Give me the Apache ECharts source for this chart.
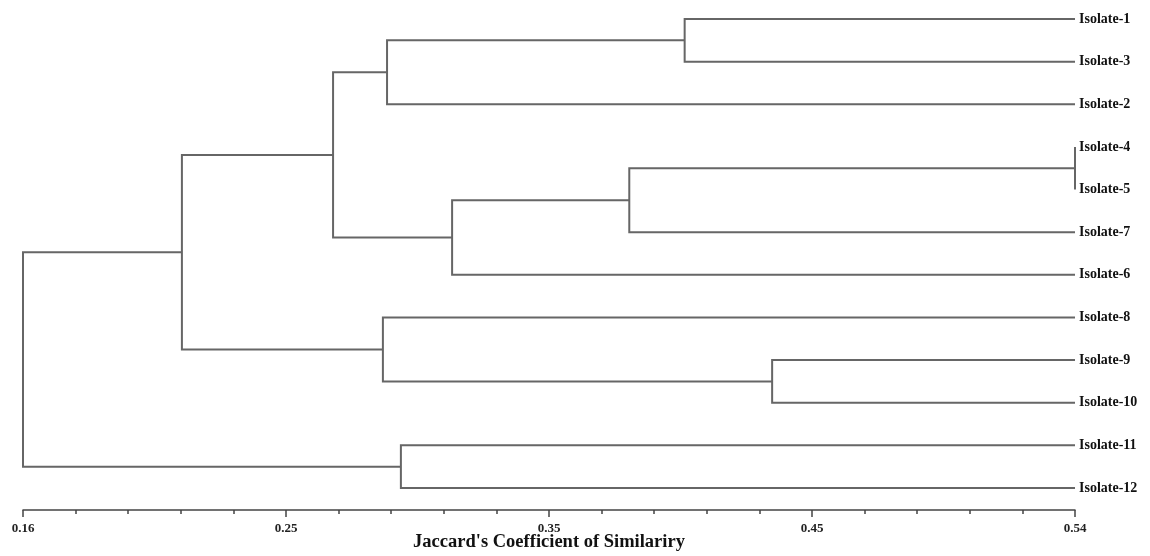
<!DOCTYPE html>
<html>
<head>
<meta charset="utf-8">
<script src="https://cdn.jsdelivr.net/npm/echarts@6/dist/echarts.min.js"></script>
<style>
  html, body { margin: 0; padding: 0; background: #fff; }
  #chart { width: 1150px; height: 556px; }
</style>
</head>
<body>
<div id="chart"></div>
<script>
// leaves, top to bottom
var leaves = ['Isolate-1', 'Isolate-3', 'Isolate-2', 'Isolate-4', 'Isolate-5', 'Isolate-7',
              'Isolate-6', 'Isolate-8', 'Isolate-9', 'Isolate-10', 'Isolate-11', 'Isolate-12'];

// merges: node ids 0..11 are leaves, merge i creates node 12+i
var mergeLeft   = [0, 12, 3, 14, 15, 13, 8, 7, 17, 10, 20];
var mergeRight  = [1, 2, 4, 5, 6, 16, 9, 18, 19, 11, 21];
var mergeHeight = [0.399, 0.2915, 0.54, 0.379, 0.315, 0.272, 0.4306, 0.290, 0.2174, 0.2965, 0.16];

var tickLabels = ['0.16', '0.25', '0.35', '0.45', '0.54'];
var axisMin = 0.16, axisMax = 0.54;

var serif = '"Liberation Serif", "DejaVu Serif", serif';

//build elbows from the merge table
var buildLines = function() {
	var nodeX = [], nodeY = [];
	for (var i = 0; i < leaves.length; i++) {
		nodeX.push(axisMax);
		nodeY.push(i);
	}
	var out = [];
	for (var m = 0; m < mergeHeight.length; m++) {
		var a = mergeLeft[m], b = mergeRight[m], h = mergeHeight[m];
		out.push({
			coords: [[nodeX[a], nodeY[a]], [h, nodeY[a]], [h, nodeY[b]], [nodeX[b], nodeY[b]]]
		});
		nodeX.push(h);
		nodeY.push((nodeY[a] + nodeY[b]) / 2);
	}
	return out;
};

var myChart = echarts.init(document.getElementById('chart'));
var option = {
	animation: false,
	grid: { left: 23, right: 75, top: 19, bottom: 68, containLabel: false, outerBoundsMode: 'none' },
	xAxis: {
		type: 'value',
		position: 'bottom',
		min: axisMin,
		max: axisMax,
		interval: 0.095,
		offset: 22,
		name: "Jaccard's Coefficient of Similariry",
		nameLocation: 'middle',
		nameGap: 23,
		nameMoveOverlap: false,
		nameTextStyle: { fontFamily: serif, fontWeight: 'bold', fontSize: 18.5, color: '#111' },
		axisLine: { show: true, onZero: false, lineStyle: { color: '#444', width: 1.5 } },
		axisTick: { show: true, length: 7, lineStyle: { color: '#444', width: 1.5 } },
		minorTick: { show: true, splitNumber: 5, length: 4, lineStyle: { color: '#444', width: 1.5 } },
		splitLine: { show: false },
		axisLabel: {
			margin: 12,
			showMinLabel: true,
			showMaxLabel: true,
			fontFamily: serif,
			fontWeight: 'bold',
			fontSize: 13,
			color: '#222',
			formatter: function(v) {
				var k = Math.round((v - axisMin) / 0.095);
				return tickLabels[k] || '';
			}
		}
	},
	yAxis: {
		type: 'value',
		inverse: true,
		min: 0,
		max: leaves.length - 1,
		interval: 1,
		position: 'right',
		axisLine: { show: false },
		axisTick: { show: false },
		splitLine: { show: false },
		axisLabel: {
			margin: 4,
			fontFamily: serif,
			fontWeight: 'bold',
			fontSize: 14,
			color: '#111',
			formatter: function(v) { return leaves[v] || ''; }
		}
	},
	series: [{
		type: 'lines',
		coordinateSystem: 'cartesian2d',
		polyline: true,
		silent: true,
		lineStyle: { color: '#666', width: 2, opacity: 1 },
		data: buildLines()
	}]
};
myChart.setOption(option);
</script>
</body>
</html>
